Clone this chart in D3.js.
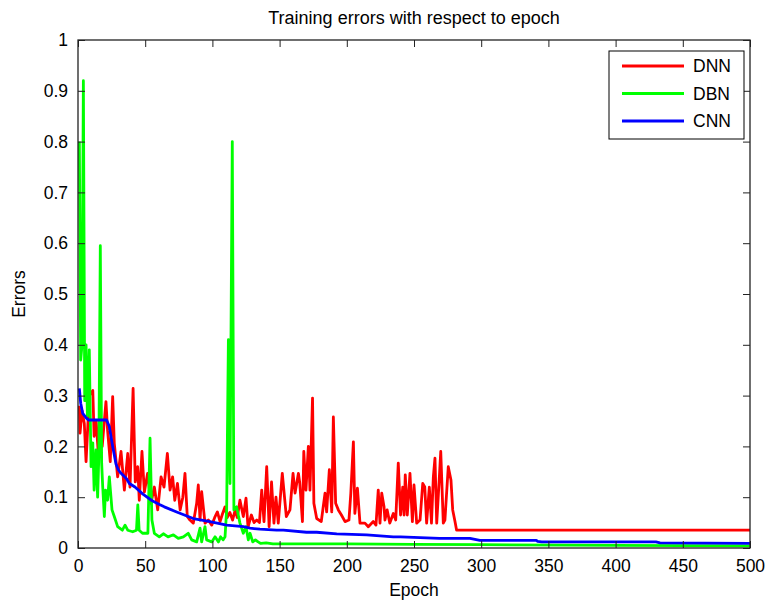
<!DOCTYPE html>
<html>
<head>
<meta charset="utf-8">
<script src="https://cdn.jsdelivr.net/npm/d3@7"></script>
<style>
  body { margin: 0; background: #fff; }
  svg { display: block; font-family: "Liberation Sans", Arial, sans-serif; }
  .axis text { font-size: 17.5px; fill: #000; }
  .axis line { stroke: #222; }
  .axis path { display: none; }
</style>
</head>
<body>
<svg id="chart"></svg>
<script>
let w = 769;
let h = 601;
let margin = {top: 40, right: 19, bottom: 53, left: 78};

// values: [epoch, error]
let dnnPts = [[1,0.28],[1.5,0.226],[3,0.27],[4.7,0.245],[6,0.17],[8.4,0.3],[11,0.31],[12,0.22],[13.5,0.25],[15,0.19],[16.5,0.23],
  [18,0.2],[20.8,0.288],[22,0.232],[24,0.17],[25.8,0.298],[27,0.206],[29.5,0.14],[32,0.19],[34.5,0.114],[37,0.186],[38.7,0.12],
  [41,0.314],[42.6,0.13],[44.4,0.16],[45.6,0.094],[47.6,0.19],[49.4,0.11],[51.8,0.147],[54.3,0.088],[56.8,0.12],[59.3,0.075],
  [61.8,0.14],[64,0.12],[66.5,0.186],[68.5,0.114],[70.4,0.14],[72,0.094],[74,0.127],[76,0.075],[78,0.1],[79.6,0.147],[81.3,0.062],
  [83.3,0.055],[85.8,0.049],[88.3,0.088],[89.5,0.124],[90.8,0.055],[92,0.111],[94.5,0.049],[97,0.055],[99.5,0.045],[102,0.062],
  [103.7,0.071],[105.7,0.052],[107.6,0.068],[109.4,0.081],[111,0.06],[113,0.07],[115,0.055],[117,0.075],[118.5,0.06],[120.5,0.094],
  [123,0.062],[125,0.098],[126.5,0.041],[129,0.065],[131,0.05],[133,0.055],[135,0.05],[136.7,0.114],[138.4,0.052],[140.4,0.16],
  [142.2,0.042],[144,0.13],[145.8,0.049],[147.3,0.1],[149,0.049],[152,0.147],[155,0.062],[157.7,0.075],[160,0.147],[161.5,0.108],
  [164,0.147],[165,0.128],[167,0.052],[168,0.19],[169.6,0.114],[171.4,0.2],[172.6,0.114],[174.5,0.295],[175.5,0.088],[177.6,0.058],
  [181,0.052],[183.8,0.108],[185,0.071],[187,0.154],[188.8,0.071],[190,0.258],[191.7,0.088],[193.7,0.075],[196,0.065],[198.7,0.052],
  [201.6,0.055],[203,0.108],[204.9,0.209],[206,0.068],[207.9,0.118],[209.8,0.049],[213.5,0.049],[216,0.042],[219.7,0.052],
  [221.7,0.045],[223.4,0.114],[224.7,0.049],[226,0.108],[227.7,0.081],[228.4,0.055],[230,0.075],[232,0.049],[234.6,0.068],
  [236.4,0.055],[238.3,0.167],[240,0.065],[241.6,0.12],[242.6,0.065],[243.5,0.144],[245,0.065],[247,0.147],[248.8,0.052],
  [250,0.124],[252,0.049],[254.5,0.055],[256.5,0.127],[258,0.12],[259.4,0.049],[261.4,0.12],[263,0.049],[264.4,0.14],
  [265.6,0.177],[266.9,0.049],[268.6,0.127],[269.9,0.19],[271.8,0.049],[273,0.055],[275.5,0.16],[277.5,0.134],[278.8,0.075],
  [280.5,0.052],[281.7,0.035],[500,0.035]];

let dbnPts = [[1,0.8],[2,0.37],[3,0.4],[4,0.92],[5,0.29],[6,0.4],[7,0.26],[8.4,0.39],[9.7,0.16],[11,0.207],[12,0.114],
  [13.4,0.193],[14.6,0.1],[15.5,0.18],[16.6,0.595],[17.6,0.167],[18.4,0.12],[19.6,0.062],[20.5,0.114],[22,0.094],[23.3,0.14],
  [25.3,0.075],[27,0.062],[29.5,0.042],[33,0.035],[35,0.045],[37,0.035],[40.7,0.032],[43.5,0.035],[44.5,0.085],[45.5,0.035],
  [48,0.029],[52,0.029],[53.6,0.216],[55,0.055],[56.8,0.029],[60.5,0.022],[63.5,0.028],[67,0.022],[71,0.026],[74.6,0.019],
  [78.4,0.022],[82,0.029],[84.6,0.016],[88.3,0.012],[90.8,0.039],[92,0.012],[94.5,0.042],[95.7,0.016],[99.5,0.012],[102,0.022],
  [104.5,0.012],[106.1,0.022],[108,0.016],[109.4,0.022],[110.6,0.075],[111.9,0.41],[113.1,0.127],[114.8,0.8],[116,0.075],
  [118,0.081],[120.5,0.049],[123,0.029],[125,0.042],[126.7,0.016],[128,0.029],[130,0.012],[132,0.016],[134,0.012],[136,0.009],
  [140,0.01],[145,0.008],[160,0.008],[200,0.008],[250,0.007],[300,0.0065],[400,0.005],[500,0.004]];

let cnnPts = [[1,0.314],[2,0.285],[3.5,0.265],[6.4,0.255],[8,0.252],[21.3,0.252],[23.3,0.239],[25.8,0.2],[28.3,0.165],
  [30,0.154],[32,0.147],[36,0.137],[38.2,0.127],[42.4,0.12],[48.3,0.106],[55.2,0.093],[61,0.085],[64.2,0.081],[73.4,0.071],
  [85.8,0.058],[98.2,0.052],[110.6,0.045],[123,0.042],[128,0.039],[135.4,0.037],[147.8,0.035],[152.8,0.035],[170,0.031],
  [177.6,0.031],[192.5,0.028],[214.8,0.026],[234.6,0.022],[240,0.022],[269,0.019],[291.7,0.019],[299,0.015],[341,0.015],
  [342,0.013],[345,0.012],[430,0.012],[433,0.01],[500,0.009]];

let seriesNames = ["DNN", "DBN", "CNN"];
let seriesColors = ["#ff0000", "#00ff00", "#0000ff"];
let xTicks = [0, 50, 100, 150, 200, 250, 300, 350, 400, 450, 500];
let yTicks = [0, 0.1, 0.2, 0.3, 0.4, 0.5, 0.6, 0.7, 0.8, 0.9, 1];

let iw = w - margin.left - margin.right;
let ih = h - margin.top - margin.bottom;

let svg = d3.select("#chart").attr("width", w).attr("height", h);

let xScale = d3.scaleLinear().domain([0, 500]).range([0, iw]);
let yScale = d3.scaleLinear().domain([0, 1]).range([ih, 0]);

let g = svg.append("g").attr("transform", "translate(" + margin.left + "," + margin.top + ")");

g.append("clipPath").attr("id", "clip")
  .append("rect").attr("width", iw).attr("height", ih);

let line = d3.line().x(d => xScale(d[0])).y(d => yScale(d[1]));

let plot = g.append("g").attr("clip-path", "url(#clip)");
[dnnPts, dbnPts, cnnPts].forEach((pts, i) => {
  plot.append("path")
    .datum(pts)
    .attr("fill", "none")
    .attr("stroke", seriesColors[i])
    .attr("stroke-width", 2.8)
    .attr("stroke-linejoin", "round")
    .attr("d", line);
});

// ticks point inward like matlab
g.append("g").attr("class", "axis")
  .attr("transform", "translate(0," + ih + ")")
  .call(d3.axisBottom(xScale).tickValues(xTicks).tickSizeInner(-7).tickSizeOuter(0).tickPadding(12).tickFormat(d3.format("d")));
g.append("g").attr("class", "axis")
  .call(d3.axisTop(xScale).tickValues(xTicks).tickSizeInner(-7).tickSizeOuter(0).tickFormat(""));
g.append("g").attr("class", "axis")
  .call(d3.axisLeft(yScale).tickValues(yTicks).tickSizeInner(-7).tickSizeOuter(0).tickPadding(10).tickFormat(d => d === 0 || d === 1 ? d : d3.format(".1f")(d)));
g.append("g").attr("class", "axis")
  .attr("transform", "translate(" + iw + ",0)")
  .call(d3.axisRight(yScale).tickValues(yTicks).tickSizeInner(-7).tickSizeOuter(0).tickFormat(""));

g.append("rect")
  .attr("width", iw).attr("height", ih)
  .attr("fill", "none").attr("stroke", "#222").attr("stroke-width", 1.3);

svg.append("text")
  .attr("x", margin.left + iw / 2).attr("y", 24)
  .attr("text-anchor", "middle").style("font-size", "18px")
  .text("Training errors with respect to epoch");

svg.append("text")
  .attr("x", margin.left + iw / 2).attr("y", 596)
  .attr("text-anchor", "middle").style("font-size", "17.5px")
  .text("Epoch");

svg.append("text")
  .attr("transform", "translate(25," + (margin.top + ih / 2) + ") rotate(-90)")
  .attr("text-anchor", "middle").style("font-size", "17.5px")
  .text("Errors");

// legend
let legend = g.append("g").attr("transform", "translate(" + (609 - margin.left) + "," + (51 - margin.top) + ")");
legend.append("rect")
  .attr("width", 135).attr("height", 88)
  .attr("fill", "#fff").attr("stroke", "#000").attr("stroke-width", 1);
seriesNames.forEach((name, i) => {
  let yy = 15 + i * 27.5;
  legend.append("line")
    .attr("x1", 13).attr("x2", 75).attr("y1", yy).attr("y2", yy)
    .attr("stroke", seriesColors[i]).attr("stroke-width", 2.8);
  legend.append("text")
    .attr("x", 84).attr("y", yy + 6)
    .style("font-size", "17.5px")
    .text(name);
});
</script>
</body>
</html>
